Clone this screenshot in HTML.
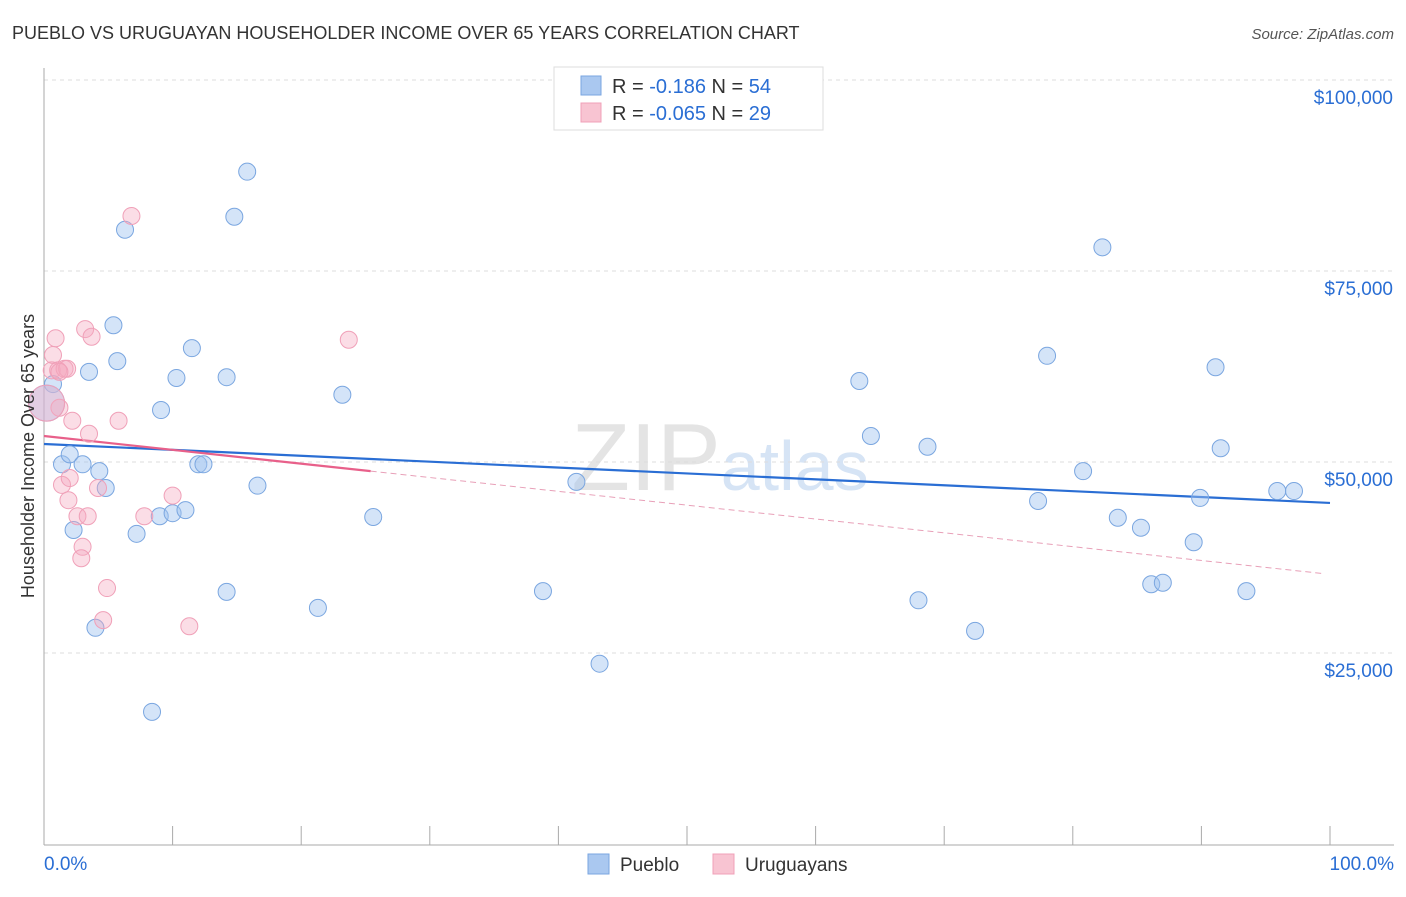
<!DOCTYPE html>
<html><head><meta charset="utf-8"><style>
body{margin:0;background:#fff;font-family:"Liberation Sans",sans-serif;}
svg text{font-family:"Liberation Sans",sans-serif;}
</style></head><body>
<svg width="1406" height="892" xmlns="http://www.w3.org/2000/svg" id="chart">
<text x="12" y="39" font-size="18" fill="#333">PUEBLO VS URUGUAYAN HOUSEHOLDER INCOME OVER 65 YEARS CORRELATION CHART</text>
<text x="1394" y="39" font-size="15" fill="#555" text-anchor="end" font-style="italic">Source: ZipAtlas.com</text>
<text x="720" y="490" font-size="96" fill="#e4e4e4" text-anchor="middle" font-family="Liberation Serif">ZIP<tspan fill="#d6e4f5" font-family="Liberation Sans" font-size="70">atlas</tspan></text>
<g id="grid"></g>
<g id="axes"></g>
<g id="lines"></g>
<g id="pts"></g>
<text transform="translate(34,456) rotate(-90)" font-size="18" fill="#333" text-anchor="middle">Householder Income Over 65 years</text>
<g>
<rect x="554" y="67" width="269" height="63" fill="#fff" stroke="#ddd"/>
<rect x="581" y="76" width="20" height="19" fill="#aac8f0" stroke="#7aa6e0"/>
<rect x="581" y="103" width="20" height="19" fill="#f8c4d2" stroke="#f0a0b8"/>
<text x="612" y="93" font-size="20" fill="#333">R = <tspan fill="#2a6ed4"> -0.186</tspan>   N = <tspan fill="#2a6ed4">54</tspan></text>
<text x="612" y="120" font-size="20" fill="#333">R = <tspan fill="#2a6ed4">-0.065</tspan>   N = <tspan fill="#2a6ed4">29</tspan></text>
</g>
<g>
<rect x="588" y="854" width="21" height="20" fill="#aac8f0" stroke="#7aa6e0"/>
<text x="620" y="871" font-size="19" fill="#333">Pueblo</text>
<rect x="713" y="854" width="21" height="20" fill="#f8c4d2" stroke="#f0a0b8"/>
<text x="745" y="871" font-size="19" fill="#333">Uruguayans</text>
</g>
</svg>
<script>
const yTicks=[25000,50000,75000,100000];
const yTickLabels=["$25,000","$50,000","$75,000","$100,000"];
const xTickLabels=["0.0%","100.0%"];
const blueX=[0.7,1.4,2.0,2.3,3.0,3.5,4.0,4.3,4.8,5.4,5.7,6.3,7.2,8.4,9.1,9.0,10.0,10.3,11.0,11.5,12.0,12.4,14.2,14.2,14.8,15.8,16.6,21.3,23.2,25.6,38.8,41.4,43.2,63.4,64.3,68.0,68.7,72.4,77.3,78.0,80.8,82.3,83.5,85.3,86.1,87.0,89.4,89.9,91.1,91.5,93.5,95.9,97.2,0.2];
const blueY=[60200,49700,51000,41100,49700,61800,28300,48800,46600,67900,63200,80400,40600,17300,56800,42900,43300,61000,43700,64900,49700,49700,61100,33000,82100,88000,46900,30900,58800,42800,33100,47400,23600,60600,53400,31900,52000,27900,44900,63900,48800,78100,42700,41400,34000,34200,39500,45300,62400,51800,33100,46200,46200,57700];
const pinkX=[0.9,0.7,0.6,1.1,1.6,1.8,1.2,2.2,3.5,3.2,3.7,5.8,6.8,23.7,1.4,2.0,1.9,2.6,3.4,4.2,3.0,2.9,4.9,4.6,7.8,10.0,11.3,1.2,0.2];
const pinkY=[66200,64000,62000,62000,62200,62200,57100,55400,53700,67400,66400,55400,82200,66000,47000,47900,45000,42900,42900,46600,38900,37400,33500,29300,42900,45600,28500,61800,57700];
const blueTrend=[52360,44640];
const pinkTrend=[53400,35300];
const pinkSolidEnd=25.4;
const NS="http://www.w3.org/2000/svg";
const X=v=>44+v*12.86, Y=v=>844-v/25000*191;
function mk(t,a,p){const e=document.createElementNS(NS,t);for(const k in a)e.setAttribute(k,a[k]);document.getElementById(p).appendChild(e);return e;}
yTicks.forEach((t,i)=>{
 const g=mk('line',{x1:44,x2:1394,y1:Y(t),y2:Y(t),stroke:'#ddd','stroke-dasharray':'4,4'},'grid');
 
 
 const tx=mk('text',{x:1393,y:Y(t)+24,'font-size':19,fill:'#2a6ed4','text-anchor':'end'},'axes');
 tx.textContent=yTickLabels[i];
 
 
});
const ax=mk('line',{x1:44,x2:44,y1:68,y2:845,stroke:'#aaa'},'axes');


const bx=mk('line',{x1:44,x2:1394,y1:845,y2:845,stroke:'#aaa'},'axes');


for(let i=0;i<=10;i++){const t=mk('line',{x1:X(i*10),x2:X(i*10),y1:826,y2:845,stroke:'#aaa'},'axes');
 
 }
[[0,44,'start'],[100,1394,'end']].forEach((d,i)=>{const t=mk('text',{x:d[1],y:870,'font-size':19,fill:'#2a6ed4','text-anchor':d[2]},'axes');t.textContent=xTickLabels[i];
 
 });
function pts(xs,ys,fill,stroke,name){xs.forEach((x,i)=>{const big=i===xs.length-1;
 const c=mk('circle',{cx:X(x),cy:Y(ys[i]),r:big?18:8.5,fill:fill,stroke:stroke,'stroke-width':1},'pts');
 
 });}
pts(blueX,blueY,'rgba(160,196,240,0.45)','#7aa6e0','pueblo-point');
pts(pinkX,pinkY,'rgba(245,170,192,0.4)','#f0a0b8','uruguayan-point');
const lb=mk('line',{x1:X(0),y1:Y(blueTrend[0]),x2:X(100),y2:Y(blueTrend[1]),stroke:'#2a6ed4','stroke-width':2.2},'lines');


const py=x=>pinkTrend[0]+(pinkTrend[1]-pinkTrend[0])*x/100;
const lp=mk('line',{x1:X(0),y1:Y(py(0)),x2:X(pinkSolidEnd),y2:Y(py(pinkSolidEnd)),stroke:'#e8608a','stroke-width':2.2},'lines');


const ld=mk('line',{x1:X(pinkSolidEnd),y1:Y(py(pinkSolidEnd)),x2:X(99.6),y2:Y(py(99.6)),stroke:'#e8a0b8','stroke-width':1,'stroke-dasharray':'6,4'},'lines');


</script>
</body></html>
